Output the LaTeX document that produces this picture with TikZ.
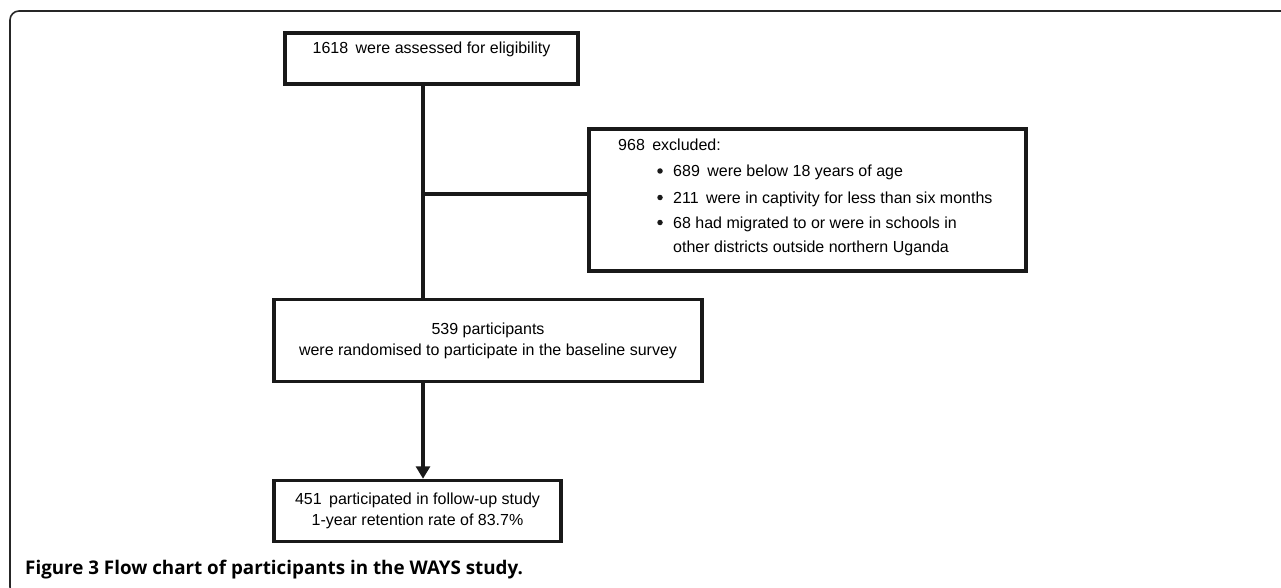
\documentclass[tikz,border=0pt]{standalone}
\usepackage{fontspec}
\setmainfont{Liberation Sans}
\newfontfamily\capfont{Open Sans}
\usetikzlibrary{arrows.meta}
\begin{document}
\begin{tikzpicture}[x=1pt,y=-1pt,
  box/.style={draw=black!90, line width=3.5pt, inner sep=0pt, align=center,
    font=\fontsize{16}{21}\selectfont},
  conn/.style={draw=black!90, line width=3.5pt},
  txt/.style={inner sep=0pt, anchor=west, text height=11.5pt, text depth=3.5pt,
    font=\fontsize{16}{21}\selectfont},
  bul/.style={circle, fill=black!90, inner sep=0pt, minimum size=5.5pt},
  frame/.style={draw=black!85, line width=1.6pt, rounded corners=9pt}]
\useasboundingbox (0,0) rectangle (1281,588);
% outer frame
\draw[frame] (1290,11) -- (10,11) -- (10,596) -- (30,596);
% boxes
\node[box, minimum width=293pt, minimum height=51pt] (b1) at (431.5,58.5)
  {1618\hspace{3pt} were assessed for eligibility\\ ~};
\node[box, minimum width=437pt, minimum height=142pt] (b2) at (807.5,200) {};
\node[box, minimum width=428pt, minimum height=82pt] (b3) at (488,340.5)
  {539 participants\\were randomised to participate in the baseline survey};
\node[box, minimum width=287pt, minimum height=61pt] (b4) at (417.5,511)
  {451\hspace{3pt} participated in follow-up study\\1-year retention rate of 83.7\%};
% exclusion text
\node[txt] (e0) at (618,147) {968\hspace{3pt} excluded:};
\node[bul] (u1) at (660,171) {};
\node[bul] (u2) at (660,197.5) {};
\node[bul] (u3) at (660,222.5) {};
\node[txt] (e1) at (673,172) {689\hspace{3pt} were below 18 years of age};
\node[txt] (e2) at (673,199) {211\hspace{3pt} were in captivity for less than six months};
\node[txt] (e3) at (673,224) {68 had migrated to or were in schools in};
\node[txt] (e4) at (673,248) {other districts outside northern Uganda};
% connectors
\coordinate (j) at (423,194);
\draw[conn] (j |- b1.south) -- (j |- b3.north);
\draw[conn] (j) -- (j -| b2.west);
\draw[conn, -{Triangle[length=12.5pt,width=14pt]}] (j |- b3.south) -- (j |- b4.north);
% caption
\node[anchor=base west, inner sep=0pt, font=\capfont\bfseries\fontsize{18.8}{22}\selectfont] (cap)
  at (25,574) {Figure 3 Flow chart of participants in the WAYS study.};
\end{tikzpicture}
\end{document}
